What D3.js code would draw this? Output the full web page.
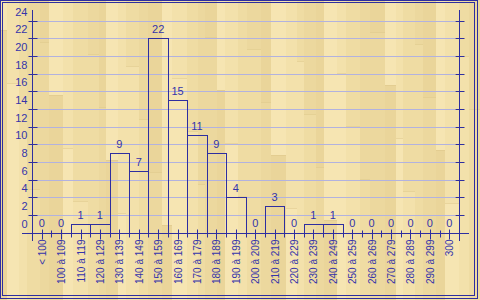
<!DOCTYPE html>
<html>
<head>
<meta charset="utf-8">
<script src="https://cdn.jsdelivr.net/npm/d3@7"></script>
<style>
  body { margin: 0; background: #fff; }
  svg { display: block; font-family: "Liberation Sans", Arial, sans-serif; }
</style>
</head>
<body>
<svg id="chart" width="480" height="300"></svg>
<script>
// DATA
var categories = ['< 100', '100 à 109', '110 à 119', '120 à 129', '130 à 139', '140 à 149',
  '150 à 159', '160 à 169', '170 à 179', '180 à 189', '190 à 199', '200 à 209',
  '210 à 219', '220 à 229', '230 à 239', '240 à 249', '250 à 259', '260 à 269',
  '270 à 279', '280 à 289', '290 à 299', '300'];
var counts = [0, 0, 1, 1, 9, 7, 22, 15, 11, 9, 4, 0, 3, 0, 1, 1, 0, 0, 0, 0, 0, 0];
var yTicks = [0, 2, 4, 6, 8, 10, 12, 14, 16, 18, 20, 22, 24];

// GLOBALS
var width = 480;
var height = 300;
var ink = '#2e2ea0';
var textInk = '#3434aa';
var svg = d3.select('#chart');

var x = d3.scaleBand().domain(categories).range([32, 459]).padding(0);
var y = d3.scaleLinear().domain([0, 24]).range([232.5, 20.5]);

// WOOD BACKGROUND (decoration only)
var woodShades = ['#f6e5b2', '#efdca3', '#eAd59a', '#f3e1ab', '#ecd89e'];
var bg = svg.append('g');
bg.append('rect').attr('width', width).attr('height', height).attr('fill', '#f0dda4');
var px = 0, k = 0;
while (px < width) {
  var w = 7 + ((k * 5) % 9);
  var cut = 30 + ((k * 53) % 200);
  bg.append('rect')
    .attr('x', px).attr('y', 0)
    .attr('width', w).attr('height', cut)
    .attr('fill', woodShades[(k * 3) % 5]);
  bg.append('rect')
    .attr('x', px).attr('y', cut)
    .attr('width', w).attr('height', height - cut)
    .attr('fill', woodShades[(k * 3 + 2) % 5]);
  bg.append('line')
    .attr('x1', px).attr('x2', px + w)
    .attr('y1', cut + 0.5).attr('y2', cut + 0.5)
    .attr('stroke', '#dcc687').attr('stroke-opacity', 0.5);
  px += w;
  k++;
}

// FRAME
svg.append('rect').attr('x', 0.5).attr('y', 0.5).attr('width', 477).attr('height', 298)
  .attr('fill', 'none').attr('stroke', ink);
svg.append('rect').attr('x', 2.5).attr('y', 2.5).attr('width', 472).attr('height', 293)
  .attr('fill', 'none').attr('stroke', ink);

// GRIDLINES
svg.append('g').selectAll('line')
  .data(yTicks.filter(function(d) { return d > 0; }))
  .enter().append('line')
  .attr('x1', 37).attr('x2', 455)
  .attr('y1', function(d) { return Math.round(y(d)) + 0.5; })
  .attr('y2', function(d) { return Math.round(y(d)) + 0.5; })
  .attr('stroke', '#b2b2df');

// BARS
svg.append('g').selectAll('rect')
  .data(counts)
  .enter().append('rect')
  .attr('x', function(d, i) { return Math.round(x(categories[i])) + 0.5; })
  .attr('width', function(d, i) {
    return Math.round(x(categories[i]) + x.bandwidth()) - Math.round(x(categories[i]));
  })
  .attr('y', function(d) { return Math.round(y(d)) + 0.5; })
  .attr('height', function(d) { return Math.round(y(0)) - Math.round(y(d)); })
  .attr('fill', 'none')
  .attr('stroke', ink)
  .style('display', function(d) { return d > 0 ? null : 'none'; });

// BAR VALUE LABELS
svg.append('g').selectAll('text')
  .data(counts)
  .enter().append('text')
  .attr('x', function(d, i) { return x(categories[i]) + x.bandwidth() / 2; })
  .attr('y', function(d) { return y(d) - 9; })
  .attr('dy', '0.35em')
  .attr('text-anchor', 'middle')
  .attr('font-size', '11px')
  .attr('fill', textInk)
  .text(function(d) { return d; });

// LEFT Y AXIS
var yAxisG = svg.append('g')
  .attr('transform', 'translate(32.5,0)')
  .call(d3.axisLeft(y).tickValues(yTicks).tickSize(0).tickPadding(5));
yAxisG.select('.domain').remove();
yAxisG.selectAll('.tick line').attr('x1', -4).attr('x2', 5).attr('stroke', ink);
yAxisG.selectAll('.tick').attr('transform', function(d) {
  return 'translate(0,' + (Math.round(y(d)) + 0.5) + ')';
});
yAxisG.selectAll('.tick text')
  .attr('y', -9)
  .attr('font-family', 'Liberation Sans, Arial, sans-serif')
  .attr('font-size', '11px')
  .attr('fill', textInk);
yAxisG.append('line').attr('x1', 0).attr('x2', 0).attr('y1', 10).attr('y2', 241).attr('stroke', ink);

// RIGHT Y AXIS
var yRightG = svg.append('g')
  .attr('transform', 'translate(459.5,0)')
  .call(d3.axisRight(y).tickValues(yTicks).tickSize(0).tickFormat(''));
yRightG.select('.domain').remove();
yRightG.selectAll('.tick').attr('transform', function(d) {
  return 'translate(0,' + (Math.round(y(d)) + 0.5) + ')';
});
yRightG.selectAll('.tick line').attr('x1', -4).attr('x2', 5).attr('stroke', ink)
  .style('display', function(d) { return d > 0 ? null : 'none'; });
yRightG.append('line').attr('x1', 0).attr('x2', 0).attr('y1', 10).attr('y2', 241).attr('stroke', ink);

// X AXIS
var x0 = Math.round(y(0)) + 0.5;
var xAxisG = svg.append('g')
  .attr('transform', 'translate(0,' + x0 + ')')
  .call(d3.axisBottom(x).tickSize(0).tickPadding(6));
xAxisG.select('.domain').remove();
xAxisG.append('line').attr('x1', 22).attr('x2', 469).attr('y1', 0).attr('y2', 0).attr('stroke', ink);
xAxisG.selectAll('.tick').attr('transform', function(d) {
  return 'translate(' + (Math.round(x(d) + x.bandwidth() / 2) + 0.5) + ',0)';
});
xAxisG.selectAll('.tick line').attr('y1', -4).attr('y2', 6).attr('stroke', ink);
xAxisG.selectAll('.tick text')
  .attr('transform', 'rotate(-90)')
  .attr('x', -6).attr('y', 0)
  .attr('dy', '0.35em')
  .attr('text-anchor', 'end')
  .attr('font-family', 'Liberation Sans, Arial, sans-serif')
  .attr('font-size', '10px')
  .attr('fill', textInk);
// band boundary ticks
xAxisG.append('g').selectAll('line')
  .data(categories.slice(1))
  .enter().append('line')
  .attr('x1', function(d) { return Math.round(x(d)) + 0.5; })
  .attr('x2', function(d) { return Math.round(x(d)) + 0.5; })
  .attr('y1', -3).attr('y2', 4)
  .attr('stroke', ink);
</script>
</body>
</html>
